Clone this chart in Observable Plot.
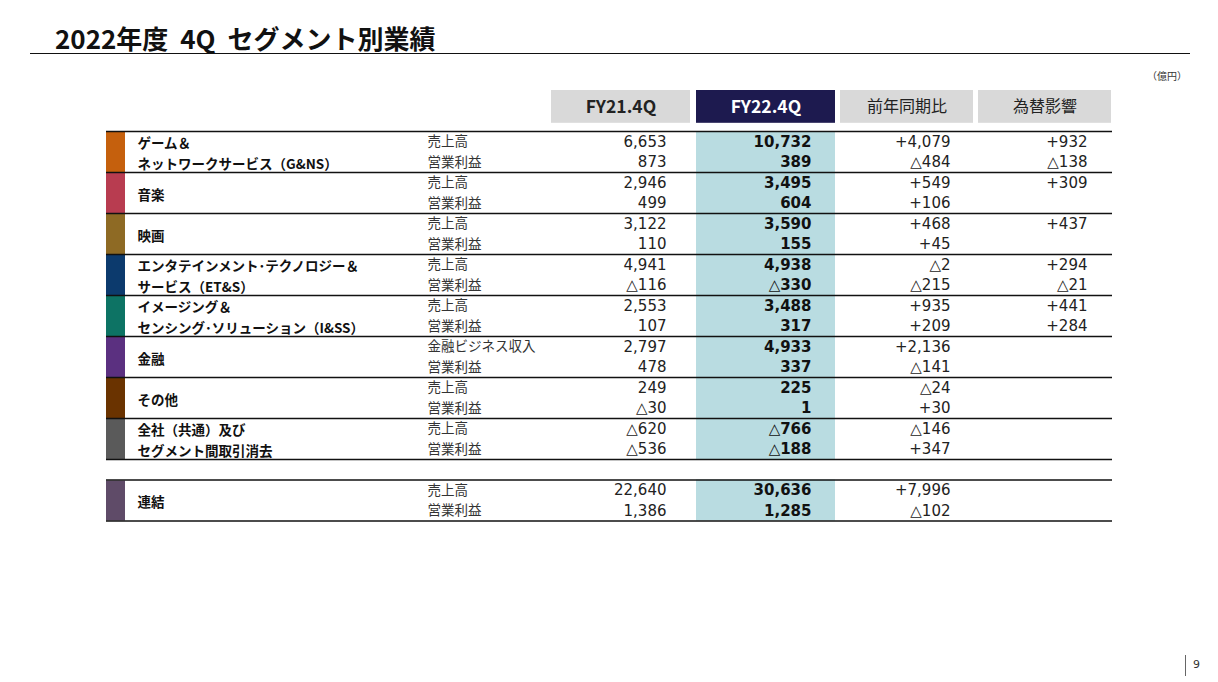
<!DOCTYPE html>
<html><head><meta charset="utf-8">
<script src="https://cdn.jsdelivr.net/npm/d3@7"></script>
<script src="https://cdn.jsdelivr.net/npm/@observablehq/plot@0.6"></script>
<style>
html,body{margin:0;padding:0;background:#fff;}
#wrap{position:relative;width:1218px;height:682px;overflow:hidden;font-family:"Noto Sans CJK JP","Noto Sans",sans-serif;}
#title{position:absolute;left:55px;top:22px;font-size:26px;font-weight:bold;line-height:32px;color:#111;white-space:nowrap;word-spacing:6px;}
#rule{position:absolute;left:30px;top:53px;width:1160px;height:0;border-top:1.5px solid #111;}
#unit{position:absolute;right:31px;top:68px;font-size:10px;color:#333;}
#pg{position:absolute;left:1185px;top:655px;height:21px;border-left:1px solid #666;}
#pgn{position:absolute;left:1193px;top:658px;font-size:11px;color:#333;font-family:"DejaVu Sans",sans-serif;}
#chart{position:absolute;left:0;top:0;}
</style></head>
<body><div id="wrap">
<div id="chart"></div>
<div id="title">2022年度 4Q セグメント別業績</div>
<div id="rule"></div>
<div id="unit">（億円）</div>
<div id="pg"></div><div id="pgn">9</div>
</div>
<script>
// ---- data ----
const segNames = ["ゲーム＆\nネットワークサービス（G&NS）", "音楽", "映画", "エンタテインメント･テクノロジー＆\nサービス（ET&S）", "イメージング＆\nセンシング･ソリューション（I&SS）", "金融", "その他", "全社（共通）及び\nセグメント間取引消去", "連結"];
const segColors = ["#c5600d", "#b83c50", "#8e6a24", "#0c3a6d", "#0d7364", "#5b3080", "#6a3300", "#5a5a5a", "#5f4b68"];
const headers = ["FY21.4Q", "FY22.4Q", "前年同期比", "為替影響"];
const metrics = ["売上高","営業利益","売上高","営業利益","売上高","営業利益","売上高","営業利益","売上高","営業利益","金融ビジネス収入","営業利益","売上高","営業利益","売上高","営業利益","売上高","営業利益"];
const fy21 = [6653, 873, 2946, 499, 3122, 110, 4941, -116, 2553, 107, 2797, 478, 249, -30, -620, -536, 22640, 1386];
const fy22 = [10732, 389, 3495, 604, 3590, 155, 4938, -330, 3488, 317, 4933, 337, 225, 1, -766, -188, 30636, 1285];
const yoy = [4079, -484, 549, 106, 468, 45, -2, -215, 935, 209, 2136, -141, -24, 30, -146, 347, 7996, -102];
const fx = [932, -138, 309, null, 437, null, 294, -21, 441, 284, null, null, null, null, null, null, null, null];

// ---- layout ----
const colBox = [[551, 690], [696, 835], [840, 973], [978, 1111]];
const colRight = [666, 811, 950, 1087];
const xBar = [106, 125], xName = 137, xMetric = 427, xEnd = 1112;

const rowPos = i => (i < 16 ? i : i + 1);
const segs = segNames.map((name, k) => ({name, color: segColors[k], r0: k < 8 ? 2 * k : 17}));
const rows = metrics.map((m, i) => ({i, r: rowPos(i), metric: m, fy21: fy21[i], fy22: fy22[i], yoy: yoy[i], fx: fx[i]}));
const fmt = d3.format(",");
const val = v => v == null ? "" : (v < 0 ? "△" + fmt(-v) : fmt(v));
const diff = v => v == null ? "" : (v < 0 ? "△" + fmt(-v) : "+" + fmt(v));
const hdr = headers.map((h, j) => ({h, j}));
const blocks = [[0, 16], [17, 19]];
const lines = [0, 2, 4, 6, 8, 10, 12, 14, 16, 17, 19];

const numFont = "DejaVu Sans, Verdana, sans-serif";
const jpFont = "Noto Sans CJK JP, sans-serif";

const chart = Plot.plot({
  width: 1218, height: 682,
  margin: 0,
  x: {type: "identity", axis: null},
  y: {domain: [0, 19], range: [131, 520.5], axis: null},
  marks: [
    // FY22 highlight column
    Plot.rect(blocks, {x1: colBox[1][0], x2: colBox[1][1], y1: d => d[0], y2: d => d[1], fill: "#b9dce1"}),
    // header boxes
    Plot.rect(hdr, {x1: d => colBox[d.j][0], x2: d => colBox[d.j][1], y1: -2, y2: -0.4, fill: d => d.j === 1 ? "#1d1a4f" : "#d9d9d9"}),
    Plot.text(hdr.filter(d => d.j < 2), {x: d => (colBox[d.j][0] + colBox[d.j][1]) / 2, y: -1.2, text: "h",
      fill: d => d.j === 1 ? "#fff" : "#222", fontWeight: "bold", fontSize: 17.5, fontFamily: jpFont}),
    Plot.text(hdr.filter(d => d.j >= 2), {x: d => (colBox[d.j][0] + colBox[d.j][1]) / 2, y: -1.2, text: "h",
      fill: "#222", fontSize: 16, fontFamily: jpFont}),
    // segment color bars
    Plot.rect(segs, {x1: xBar[0], x2: xBar[1], y1: "r0", y2: d => d.r0 + 2, fill: "color", insetTop: 1}),
    // rules
    Plot.ruleY(lines, {x1: xBar[0], x2: xEnd, stroke: "#111", strokeWidth: 1.3}),
    // segment names
    Plot.text(segs, {x: xName, y: d => d.r0 + 1, text: "name", textAnchor: "start", fontWeight: "bold",
      fontSize: 13.5, lineHeight: 1.52, fontFamily: jpFont, fill: "#111"}),
    // metrics
    Plot.text(rows, {x: xMetric, y: d => d.r + 0.5, text: "metric", textAnchor: "start", fontSize: 13.5, fontFamily: jpFont, fill: "#333"}),
    // values
    Plot.text(rows, {x: colRight[0], y: d => d.r + 0.5, text: d => val(d.fy21), textAnchor: "end", fontSize: 15, fontFamily: numFont, fill: "#222"}),
    Plot.text(rows, {x: colRight[1], y: d => d.r + 0.5, text: d => val(d.fy22), textAnchor: "end", fontSize: 15, fontWeight: "bold", fontFamily: numFont, fill: "#111"}),
    Plot.text(rows, {x: colRight[2], y: d => d.r + 0.5, text: d => diff(d.yoy), textAnchor: "end", fontSize: 15, fontFamily: numFont, fill: "#222"}),
    Plot.text(rows, {x: colRight[3], y: d => d.r + 0.5, text: d => diff(d.fx), textAnchor: "end", fontSize: 15, fontFamily: numFont, fill: "#222"})
  ]
});
document.getElementById("chart").appendChild(chart);
</script>
</body></html>
